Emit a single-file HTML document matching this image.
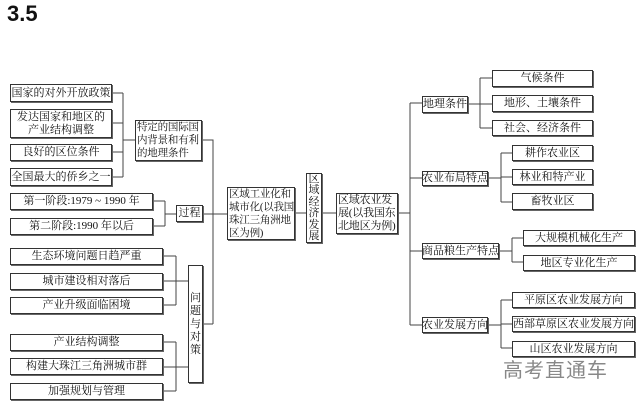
<!DOCTYPE html>
<html><head><meta charset="utf-8">
<style>
html,body{margin:0;padding:0;background:#fff;}
body{width:640px;height:405px;position:relative;overflow:hidden;font-family:"Liberation Serif","Noto Serif CJK SC",serif;color:#111;}
.b{position:absolute;box-sizing:border-box;border:1px solid #333;box-shadow:1px 1px 0 #666;background:#fff;font-size:11px;line-height:13px;text-align:center;display:flex;align-items:center;justify-content:center;white-space:nowrap;}
.l{text-align:left;justify-content:flex-start;padding-left:1px;font-size:10.5px;letter-spacing:-0.2px;}
.v{white-space:normal;word-break:break-all;line-height:11.5px;padding:0;}
svg{position:absolute;left:0;top:0;}
#t{position:absolute;left:7px;top:1px;font:bold 22px "Liberation Sans",sans-serif;}
#w{position:absolute;left:503px;top:354px;font-size:20px;color:#888;font-family:"Liberation Sans","Noto Sans CJK SC",sans-serif;letter-spacing:1px;}
</style></head><body>
<div id="t">3.5</div>
<svg width="640" height="405" stroke="#444" stroke-width="1" fill="none">
<path d="M112 93H123M112 123H123M112 152H123M112 177H123M123 93V177M123 140H135"/>
<path d="M202 140H213V324M202 214H227M202 324H213"/>
<path d="M153 201H165M153 226H165M165 201V226M165 214H176"/>
<path d="M163 256H176M163 281H176M163 305H176M176 256V305M176 281H188"/>
<path d="M163 342H176M163 367H176M163 391H176M176 342V391M176 367H188"/>
<path d="M295 213H306M322 213H336"/>
<path d="M398 213H410M410 103V325M410 103H422M410 178H422M410 251H422M410 325H422"/>
<path d="M468 104H480M480 78V128M480 78H492M480 104H492M480 128H492"/>
<path d="M488 178H501M501 153V202M501 153H512M501 177H512M501 202H512"/>
<path d="M499 251H512M512 238V262M512 238H523M512 262H523"/>
<path d="M488 325H501M501 300V348M501 300H512M501 324H512M501 348H512"/>
</svg>
<div class="b" style="left:10px;top:84px;width:102px;height:18px">国家的对外开放政策</div>
<div class="b" style="left:10px;top:109px;width:102px;height:29px">发达国家和地区的<br>产业结构调整</div>
<div class="b" style="left:10px;top:144px;width:102px;height:17px">良好的区位条件</div>
<div class="b" style="left:10px;top:168px;width:102px;height:18px">全国最大的侨乡之一</div>
<div class="b l" style="left:135px;top:120px;width:67px;height:41px">特定的国际国<br>内背景和有利<br>的地理条件</div>
<div class="b" style="left:10px;top:193px;width:143px;height:17px">第一阶段:1979 ~ 1990 年</div>
<div class="b" style="left:10px;top:218px;width:143px;height:17px">第二阶段:1990 年以后</div>
<div class="b" style="left:176px;top:205px;width:27px;height:17px">过程</div>
<div class="b l" style="left:227px;top:187px;width:68px;height:53px">区域工业化和<br>城市化(以我国<br>珠江三角洲地<br>区为例)</div>
<div class="b v" style="left:306px;top:173px;width:16px;height:70px">区域经济发展</div>
<div class="b" style="left:10px;top:248px;width:153px;height:17px">生态环境问题日趋严重</div>
<div class="b" style="left:10px;top:273px;width:153px;height:17px">城市建设相对落后</div>
<div class="b" style="left:10px;top:297px;width:153px;height:17px">产业升级面临困境</div>
<div class="b v" style="left:188px;top:265px;width:15px;height:118px;line-height:13px">问题与对策</div>
<div class="b" style="left:10px;top:334px;width:153px;height:17px">产业结构调整</div>
<div class="b" style="left:10px;top:358px;width:153px;height:17px">构建大珠江三角洲城市群</div>
<div class="b" style="left:10px;top:383px;width:153px;height:17px">加强规划与管理</div>
<div class="b l" style="left:336px;top:193px;width:62px;height:41px;font-size:11px">区域农业发<br>展(以我国东<br>北地区为例)</div>
<div class="b" style="left:422px;top:96px;width:46px;height:17px">地理条件</div>
<div class="b" style="left:492px;top:70px;width:101px;height:17px">气候条件</div>
<div class="b" style="left:492px;top:95px;width:101px;height:17px">地形、土壤条件</div>
<div class="b" style="left:492px;top:120px;width:101px;height:16px">社会、经济条件</div>
<div class="b" style="left:422px;top:171px;width:66px;height:15px">农业布局特点</div>
<div class="b" style="left:512px;top:145px;width:81px;height:16px">耕作农业区</div>
<div class="b" style="left:512px;top:169px;width:81px;height:16px">林业和特产业</div>
<div class="b" style="left:512px;top:193px;width:81px;height:17px">畜牧业区</div>
<div class="b" style="left:422px;top:243px;width:77px;height:16px">商品粮生产特点</div>
<div class="b" style="left:523px;top:230px;width:112px;height:16px">大规模机械化生产</div>
<div class="b" style="left:523px;top:255px;width:112px;height:16px">地区专业化生产</div>
<div class="b" style="left:422px;top:317px;width:66px;height:16px">农业发展方向</div>
<div class="b" style="left:512px;top:292px;width:123px;height:16px">平原区农业发展方向</div>
<div class="b" style="left:512px;top:316px;width:123px;height:16px">西部草原区农业发展方向</div>
<div class="b" style="left:512px;top:341px;width:123px;height:16px">山区农业发展方向</div>
<div id="w">高考直通车</div>
</body></html>
